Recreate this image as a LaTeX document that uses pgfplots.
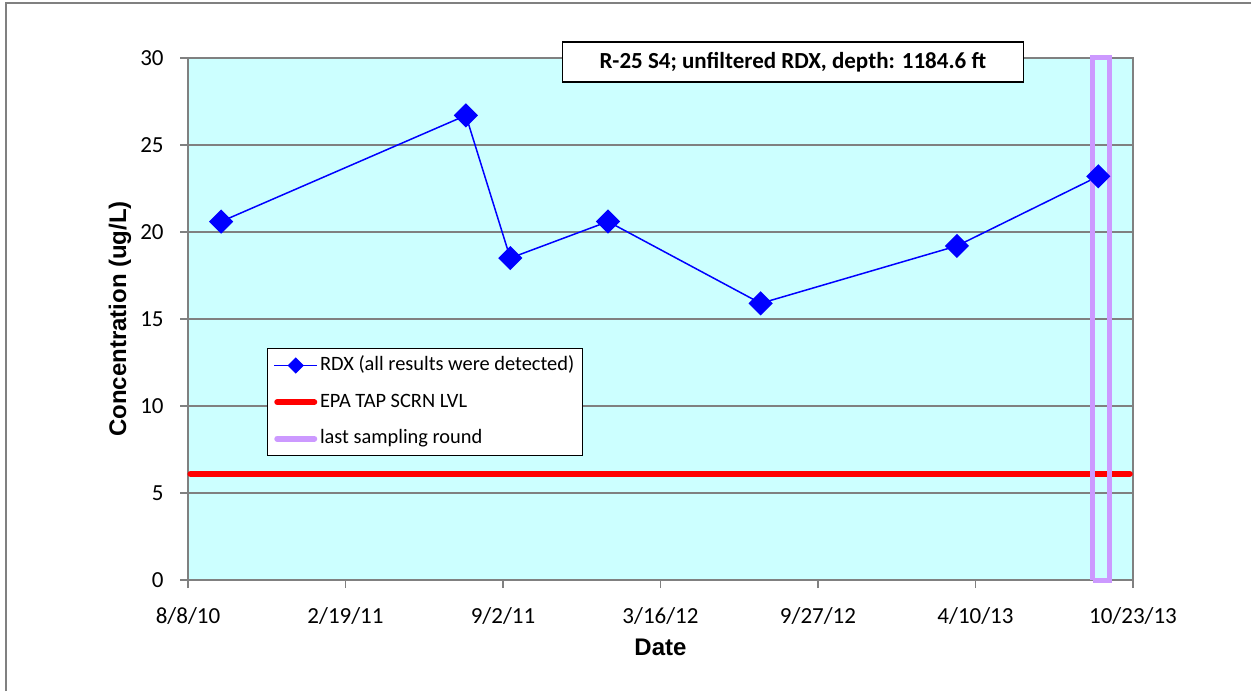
\documentclass[border=0pt]{standalone}
\usepackage{pgfplots}
\pgfplotsset{compat=1.18}
\usepackage{fontspec}
\setmainfont{Carlito}
\newfontfamily\arialf{Liberation Sans}
\definecolor{bgc}{HTML}{CCFFFF}
\definecolor{gridc}{HTML}{808080}
\definecolor{lastc}{HTML}{CC99FF}
\begin{document}
\begin{tikzpicture}
\path[use as bounding box] (0pt,0pt) rectangle (625.5pt,345.5pt);
\draw[gridc, line width=0.75pt] (3pt,0pt) -- (3pt,344pt) -- (625.5pt,344pt);
\begin{axis}[
  at={(94pt,55.5pt)}, anchor=south west,
  scale only axis, width=472.5pt, height=261pt,
  xmin=0, xmax=1170, ymin=0, ymax=30,
  clip=false,
  axis background/.style={fill=bgc},
  axis line style={gridc, line width=0.75pt},
  xtick={0,195,390,585,780,975,1170},
  xticklabels={8/8/10,2/19/11,9/2/11,3/16/12,9/27/12,4/10/13,10/23/13},
  ytick={0,5,10,15,20,25,30},
  tick align=outside, tick pos=left,
  major tick length=4pt,
  tick style={gridc, line width=0.75pt},
  ymajorgrids, grid style={gridc, line width=0.75pt},
  /pgf/number format/assume math mode=true,
  ticklabel style={font=\fontsize{11.5}{13}\selectfont},
  yticklabel style={anchor=east, inner sep=0pt, xshift=-8pt},
  xticklabel style={anchor=north, inner sep=0pt, yshift=-9.5pt},
  xlabel={Date}, ylabel={Concentration (ug/L)},
  label style={font=\arialf\bfseries\fontsize{12}{14}\selectfont},
  xlabel style={at={(rel axis cs:0.5,0)}, anchor=center, yshift=-33.5pt},
  ylabel style={at={(rel axis cs:0,0.5)}, anchor=center, rotate=0, yshift=34pt},
  legend style={at={(rel axis cs:0.0836,0.4444)}, anchor=north west,
    draw=black, line width=0.5pt, fill=white,
    font=\fontsize{10.2}{12}\selectfont, inner sep=3pt,
    nodes={inner sep=1pt, anchor=west, text height=7pt, text depth=2pt},
    row sep=7.3pt},
  legend cell align=left,
]
\addplot[blue, line width=0.75pt, mark=square*, mark size=3.9pt,
  mark options={rotate=45, solid, fill=blue, draw=blue},
  legend image code/.code={
    \draw[blue, line width=0.75pt] (0pt,0pt) -- (21.5pt,0pt);
    \fill[blue] (10.75pt,3.5pt) -- (14.25pt,0pt) -- (10.75pt,-3.5pt) -- (7.25pt,0pt) -- cycle;}]
coordinates {
(41,20.6)
(344,26.7)
(399,18.5)
(520,20.6)
(709,15.9)
(952,19.2)
(1127,23.2)
};
\addlegendentry{RDX (all results were detected)}
\addplot[red, line width=3pt, line cap=round,
  legend image code/.code={\draw[red, line width=3pt, line cap=round] (1.5pt,0pt) -- (20pt,0pt);}]
coordinates {(3,6.1) (1166,6.1)};
\addlegendentry{EPA TAP SCRN LVL}
\addplot[lastc, line width=2.5pt, line join=miter,
  legend image code/.code={\draw[lastc, line width=3pt, line cap=round] (1.5pt,0pt) -- (20pt,0pt);}]
coordinates {(1120,0) (1141,0) (1141,30) (1120,30) (1120,0)};
\addlegendentry{last sampling round}
\node[draw=black, fill=white, line width=0.75pt, minimum width=230.5pt, minimum height=20pt,
  inner sep=0pt, font=\bfseries\fontsize{11.5}{13}\selectfont]
  at (rel axis cs:0.640,0.992) {R-25 S4; unfiltered RDX, depth: 1184.6 ft};
\end{axis}
\end{tikzpicture}
\end{document}
